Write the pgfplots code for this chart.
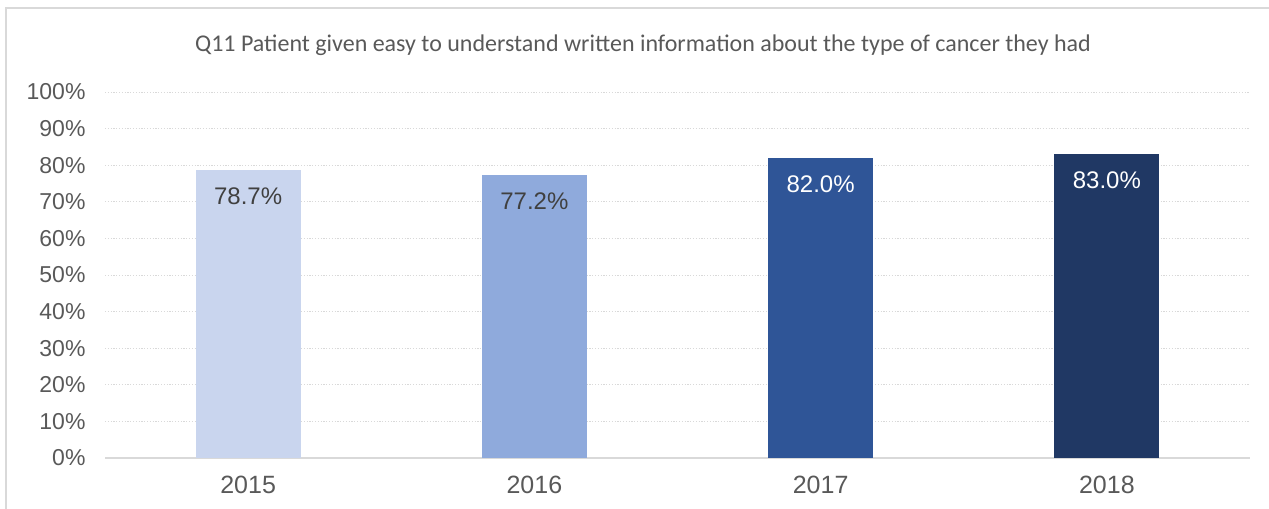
\documentclass[border=0pt]{standalone}
\usepackage{pgfplots}
\pgfplotsset{compat=1.18}
\usepackage{fontspec}
\setmainfont{Liberation Sans}
\newfontfamily\titlefont{Carlito}
\definecolor{c15}{HTML}{C9D5EE}
\definecolor{c16}{HTML}{8FAADC}
\definecolor{c17}{HTML}{2F5597}
\definecolor{c18}{HTML}{203864}
\definecolor{gridc}{HTML}{D9D9D9}
\definecolor{tickc}{HTML}{595959}
\definecolor{labdark}{HTML}{404040}
\begin{document}
\begin{tikzpicture}
\path[use as bounding box] (0,0) rectangle (1269bp,509bp);
\draw[gridc, line width=1.5bp] (6bp,0) -- (6bp,501bp) -- (1269bp,501bp);
\node[font=\titlefont\fontsize{24bp}{28bp}\selectfont, text=tickc] at (643bp,464bp) {Q11 Patient given easy to understand written information about the type of cancer they had};
\begin{axis}[
  at={(105bp,51bp)}, anchor=south west,
  scale only axis, width=1145bp, height=366bp,
  xmin=-0.5, xmax=3.5, ymin=0, ymax=100,
  xtick={0,1,2,3}, xticklabels={2015,2016,2017,2018},
  ytick={0,10,...,100},
  yticklabels={0\%,10\%,20\%,30\%,40\%,50\%,60\%,70\%,80\%,90\%,100\%},
  axis x line*=bottom, axis y line*=left,
  x axis line style={draw=gridc, line width=1.5bp, -},
  y axis line style={draw=none},
  major tick length=0pt,
  ymajorgrids, grid style={gridc, line width=0.9bp, dash pattern=on 1.2bp off 1.6bp},
  x tick label style={font=\fontsize{25bp}{29bp}\selectfont, text=tickc, yshift=-15bp},
  y tick label style={font=\fontsize{23bp}{27bp}\selectfont, text=tickc, xshift=-16bp},
  every axis plot/.append style={ybar, bar width=105bp, bar shift=0pt, draw=none},
  nodes near coords={\pgfmathprintnumber[fixed, fixed zerofill, precision=1, assume math mode=true]{\pgfplotspointmeta}\%},
  every node near coord/.append style={anchor=center, yshift=-26bp, font=\fontsize{24bp}{28bp}\selectfont},
]
\addplot[fill=c15, every node near coord/.append style={text=labdark}] coordinates {(0,78.7)};
\addplot[fill=c16, every node near coord/.append style={text=labdark}] coordinates {(1,77.2)};
\addplot[fill=c17, every node near coord/.append style={text=white}] coordinates {(2,82.0)};
\addplot[fill=c18, every node near coord/.append style={text=white}] coordinates {(3,83.0)};
\end{axis}
\end{tikzpicture}
\end{document}
